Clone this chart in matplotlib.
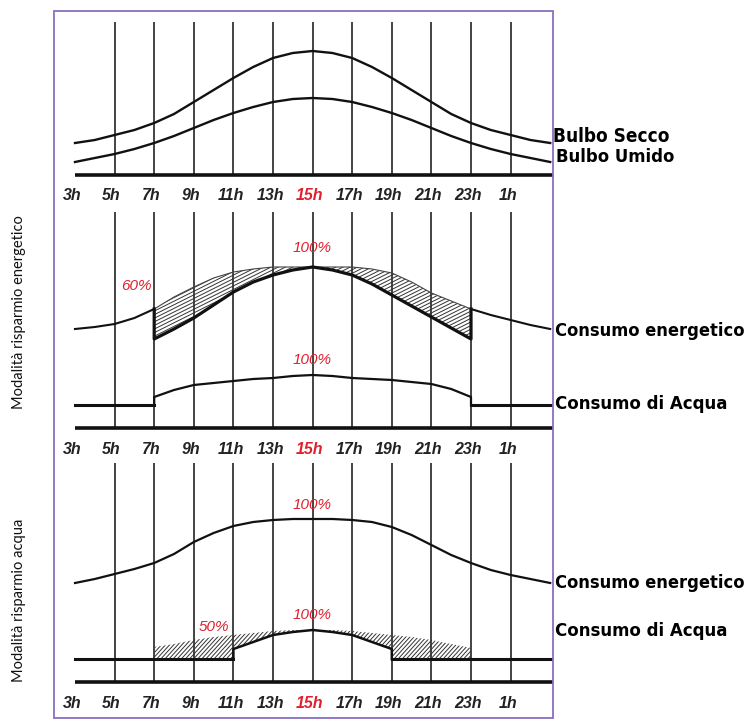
import numpy as np
import matplotlib
matplotlib.use("Agg")
import matplotlib.pyplot as plt
import matplotlib.font_manager as fm
from matplotlib.patches import Rectangle, Polygon
from matplotlib.collections import LineCollection

# ---------------- data (heights above each panel's baseline, px units) -------------
hours = list(range(3, 28))                     # 3h .. 27h (=3h next day)
tick_hours = list(range(3, 27, 2))
tick_labels = ["3h", "5h", "7h", "9h", "11h", "13h", "15h", "17h", "19h", "21h", "23h", "1h"]
grid_hours = list(range(5, 27, 2))

bulbo_secco = [32, 35, 40, 45, 52, 61, 73, 85, 97, 108, 117, 122, 124,
               122, 117, 108, 97, 85, 73, 61, 52, 45, 40, 35, 32]
bulbo_umido = [13, 17, 21, 26, 32, 39, 47, 55, 62, 68, 73, 76, 77,
               76, 73, 68, 62, 55, 47, 39, 32, 26, 21, 17, 13]

# Panel 2 - energy saving mode
p2_energy_full = [99, 101, 104, 110, 119, 131, 141, 150, 156, 159, 161, 161, 161,
                  161, 161, 159, 155, 146, 135, 127, 119, 113, 108, 103, 99]
p2_on_hours = list(range(7, 24))
p2_energy_reduced = [89, 99, 110, 123, 136, 146, 153, 158, 161, 158, 153, 144, 133,
                     122, 111, 100, 89]
water_base = 23
p2_water_on = [31, 38, 43, 45, 47, 49, 50, 52, 53, 52, 50, 49, 48, 46, 44, 39, 31]

# Panel 3 - water saving mode
p3_energy = [99, 103, 108, 113, 119, 128, 140, 149, 156, 160, 162, 163, 163,
             163, 162, 160, 155, 147, 137, 127, 119, 112, 107, 103, 99]
p3_water_env_hours = list(range(7, 24))
p3_water_env = [35, 38, 42, 45, 47, 49, 51, 52, 52, 52, 51, 49, 47, 45, 42, 38, 34]
p3_water_on_hours = list(range(11, 20))
p3_water_on = [33, 40, 47, 50, 52, 50, 47, 40, 33]

# ---------------- styling ----------------
W, H = 753, 719
fig = plt.figure(figsize=(W / 100, H / 100), dpi=100)
BLACK = "#111111"
RED = "#e0202c"
PX_PER_H = 19.8
X0_PX = 75.0
BOX_L, BOX_R, BOX_T, BOX_B = 54, 553, 11, 718

def fx(px):
    return px / W

def fy(py):
    return 1 - py / H

xlim = (3 - (X0_PX - BOX_L) / PX_PER_H, 3 + (BOX_R - X0_PX) / PX_PER_H)

def make_axes(top_px, baseline_px):
    bottom_px = baseline_px + 5
    ax = fig.add_axes([fx(BOX_L), fy(bottom_px), (BOX_R - BOX_L) / W, (bottom_px - top_px) / H])
    ax.set_xlim(*xlim)
    ax.set_ylim(-5, baseline_px - top_px)
    ax.axis("off")
    return ax

def decorate(ax, vtop):
    ax.vlines(grid_hours, 0, vtop, color=BLACK, lw=1.1, zorder=1)
    ax.hlines(0, 3, xlim[1], color=BLACK, lw=2.6, zorder=3)
    for h, lab in zip(tick_hours, tick_labels):
        ax.text(h - 0.15, -21, lab, ha="center", va="center", fontsize=11.5, fontweight="bold",
                fontstyle="italic", family="Liberation Sans",
                color=RED if lab == "15h" else "#222222", clip_on=False)

def pct(ax, x, y, s):
    ax.text(x, y, s, ha="center", va="center", fontsize=11, fontstyle="italic",
            family="Liberation Sans", color=RED, clip_on=False, zorder=5)

def hatch_region(ax, xs, ys, slope_px, spacing_px):
    """Draw hatch lines (given pixel slope / vertical spacing) clipped to polygon."""
    poly = Polygon(np.column_stack([xs, ys]), closed=True, facecolor="none",
                   edgecolor="none", transform=ax.transData)
    ax.add_patch(poly)
    x0, x1 = min(xs) - 1, max(xs) + 1
    segs = []
    span = slope_px * PX_PER_H * (x1 - x0)
    for c in np.arange(-span - 10, 250, spacing_px):
        segs.append([(x0, c), (x1, c + span)])
    lc = LineCollection(segs, colors="#333333", linewidths=0.7, zorder=1)
    ax.add_collection(lc)
    lc.set_clip_path(poly)

# Panel 1
ax1 = make_axes(11, 175)
decorate(ax1, 153)
ax1.plot(hours, bulbo_secco, color=BLACK, lw=1.7, zorder=2)
ax1.plot(hours, bulbo_umido, color=BLACK, lw=1.7, zorder=2)

# Panel 2
ax2 = make_axes(205, 428)
decorate(ax2, 216)
ax2.plot(hours[:5], p2_energy_full[:5], color=BLACK, lw=1.5, zorder=2)
ax2.plot(hours[20:], p2_energy_full[20:], color=BLACK, lw=1.5, zorder=2)
ax2.plot(p2_on_hours, p2_energy_full[4:21], color="#444444", lw=0.8, zorder=2)
ax2.plot([7] + p2_on_hours + [23], [p2_energy_full[4]] + p2_energy_reduced + [p2_energy_full[20]],
         color=BLACK, lw=2.3, zorder=2)
hatch_region(ax2, p2_on_hours + p2_on_hours[::-1], p2_energy_full[4:21] + p2_energy_reduced[::-1],
             0.5, 3.6)
ax2.plot([3, 7], [water_base, water_base], color=BLACK, lw=2.2, zorder=2)
ax2.plot([23, 27.14], [water_base, water_base], color=BLACK, lw=2.2, zorder=2)
ax2.plot([7] + p2_on_hours + [23], [water_base] + p2_water_on + [water_base],
         color=BLACK, lw=1.6, zorder=2)
pct(ax2, 15, 180, "100%")
pct(ax2, 15, 68, "100%")
pct(ax2, 6.1, 142, "60%")

# Panel 3
ax3 = make_axes(458, 682)
decorate(ax3, 219)
ax3.plot(hours, p3_energy, color=BLACK, lw=1.6, zorder=2)
wx = [3, 11] + p3_water_on_hours + [19, 27.14]
wy = [water_base, water_base] + p3_water_on + [water_base, water_base]
ax3.plot(wx[:2], wy[:2], color=BLACK, lw=2.2, zorder=2)
ax3.plot(wx[-2:], wy[-2:], color=BLACK, lw=2.2, zorder=2)
ax3.plot(wx[1:-1], wy[1:-1], color=BLACK, lw=1.8, zorder=2)
low_x = [7, 11] + p3_water_on_hours + [19, 23]
low_y = [water_base, water_base] + p3_water_on + [water_base, water_base]
hatch_region(ax3, p3_water_env_hours + low_x[::-1], p3_water_env + low_y[::-1], 1.1, 4.5)
pct(ax3, 15, 177, "100%")
pct(ax3, 15, 67, "100%")
pct(ax3, 10.0, 55, "50%")

# Frame
fig.patches.append(Rectangle((fx(BOX_L), fy(BOX_B)), (BOX_R - BOX_L) / W, (BOX_B - BOX_T) / H,
                             transform=fig.transFigure, fill=False, edgecolor="#8a70c0", lw=1.3))

# ---------- right-hand labels: look for a bold condensed font ----------
def pick_condensed():
    cands = []
    for f in fm.fontManager.ttflist:
        nm = f.name.lower()
        fn = f.fname.lower().split("/")[-1]
        st = str(f.stretch).lower()
        cond = ("condensed" in nm or "narrow" in nm or "condensed" in fn or "narrow" in fn
                or st in ("condensed", "semi-condensed", "extra-condensed", "ultra-condensed"))
        try:
            wt = int(f.weight)
        except Exception:
            wt = 700 if "bold" in str(f.weight).lower() else 400
        bold = wt >= 600 or "bold" in fn
        ital = "italic" in fn or "oblique" in fn or f.style != "normal"
        if cond and bold and not ital:
            score = 0
            if "semi" in fn or "semi" in st:
                score -= 2
            if "extra" in fn or "ultra" in fn:
                score -= 1
            if "black" in fn or "extrabold" in fn or "heavy" in fn:
                score -= 1
            if wt == 700:
                score += 1
            cands.append((score, f.fname))
    if cands:
        cands.sort(key=lambda t: -t[0])
        return fm.FontProperties(fname=cands[0][1])
    return fm.FontProperties(family="Roboto", weight="bold")

cfont = pick_condensed()
renderer = fig.canvas.get_renderer()

def fitted_text(xpx, ypx, s, target_w):
    t = fig.text(fx(xpx), fy(ypx), s, fontproperties=cfont, ha="left", va="center", color="black")
    t.set_fontsize(20)
    w = t.get_window_extent(renderer).width
    t.set_fontsize(20 * target_w / w)
    return t

fitted_text(553, 136, "Bulbo Secco", 116)
fitted_text(556, 157, "Bulbo Umido", 119)
fitted_text(555, 331, "Consumo energetico", 190)
fitted_text(555, 404, "Consumo di Acqua", 173)
fitted_text(555, 583, "Consumo energetico", 190)
fitted_text(555, 631, "Consumo di Acqua", 173)

# Left mode labels
side = dict(family=["Lato", "DejaVu Sans"], fontsize=10.5, rotation=90, ha="center", va="center",
            color="#111111")
fig.text(fx(19), fy(312), "Modalità risparmio energetico", **side)
fig.text(fx(19), fy(600), "Modalità risparmio acqua", **side)

fig.savefig("out.png", dpi=100)
